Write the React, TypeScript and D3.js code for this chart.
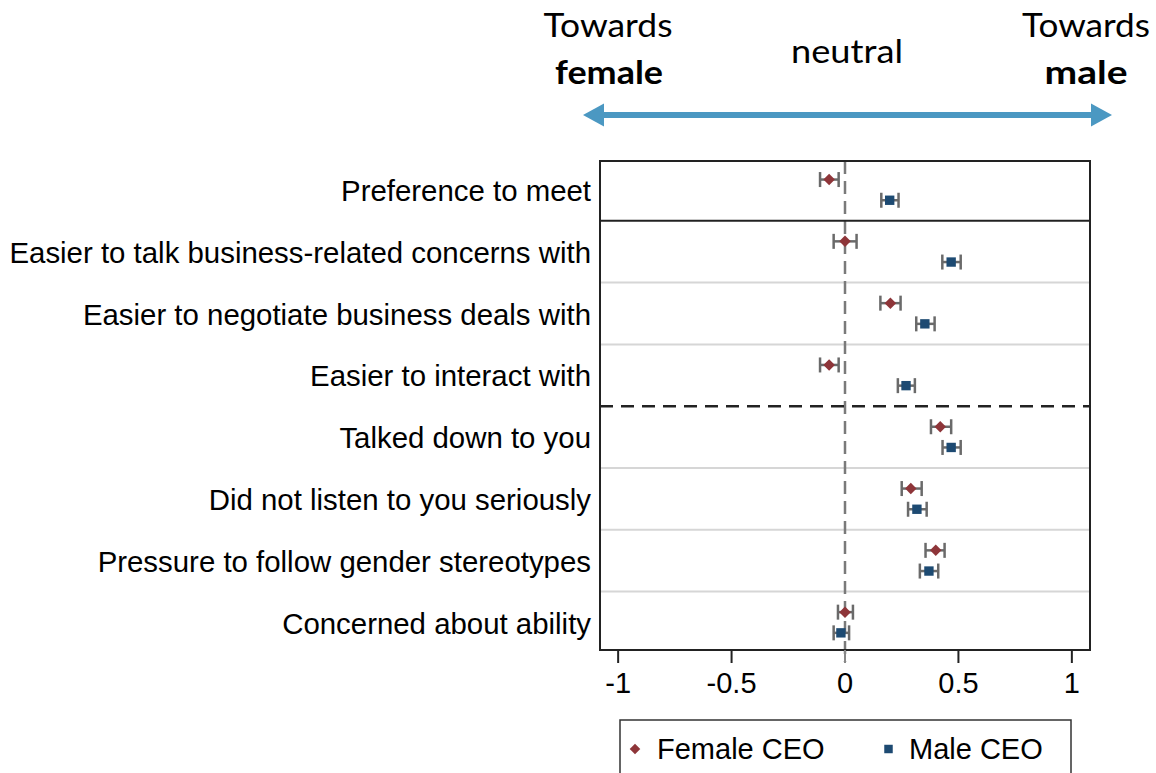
import React from "react";
import * as d3 from "d3";

const categories = [
  "Preference to meet",
  "Easier to talk business-related concerns with",
  "Easier to negotiate business deals with",
  "Easier to interact with",
  "Talked down to you",
  "Did not listen to you seriously",
  "Pressure to follow gender stereotypes",
  "Concerned about ability",
];
const femaleEst = [-0.07, 0.0, 0.2, -0.07, 0.42, 0.29, 0.4, 0.0];
const femaleLo = [-0.11, -0.05, 0.156, -0.11, 0.379, 0.25, 0.355, -0.031];
const femaleHi = [-0.028, 0.051, 0.245, -0.028, 0.468, 0.338, 0.439, 0.035];
const maleEst = [0.197, 0.468, 0.352, 0.269, 0.468, 0.317, 0.37, -0.018];
const maleLo = [0.16, 0.429, 0.314, 0.233, 0.43, 0.278, 0.33, -0.05];
const maleHi = [0.236, 0.51, 0.395, 0.308, 0.51, 0.36, 0.411, 0.018];
const xTicks = [-1, -0.5, 0, 0.5, 1];
const tickLabels = ["-1", "-0.5", "0", "0.5", "1"];
const seriesNames = ["Female CEO", "Male CEO"];

const FEMALE = "#8E3539";
const MALE = "#1D4A72";
const ERR = "#6a6a6a";
const FRAME = "#222";
const ARROW = "#4B98C2";
const LABEL_FONT = "'Liberation Sans', Arial, Helvetica, sans-serif";
const HEAD_FONT = "Lato, 'Open Sans', sans-serif";

// square-ish diamond (as in Stata), size = area
const wideDiamond = {
  draw(ctx: any, size: number) {
    const r = Math.sqrt(size / 2);
    ctx.moveTo(0, -r);
    ctx.lineTo(r, 0);
    ctx.lineTo(0, r);
    ctx.lineTo(-r, 0);
    ctx.closePath();
  },
};

export default function App() {
  const W = 1156, H = 773;
  const plotL = 600, plotR = 1090, plotT = 161, plotB = 650;
  const x = d3.scaleLinear().domain([-1.08, 1.08]).range([plotL, plotR]);
  const y = d3.scaleBand<string>().domain(categories).range([159, 653.4]).padding(0);
  const bw = y.bandwidth();
  const sub = d3.scalePoint<string>().domain(seriesNames).range([-10.35, 10.35]);
  const center = (c: string) => (y(c) as number) + bw / 2;

  const series = [
    { name: seriesNames[0], est: femaleEst, lo: femaleLo, hi: femaleHi, color: FEMALE, shape: "diamond" },
    { name: seriesNames[1], est: maleEst, lo: maleLo, hi: maleHi, color: MALE, shape: "square" },
  ];

  const diamond = d3.symbol(wideDiamond as any, 66)();
  const square = d3.symbol(d3.symbolSquare, 88)();
  const capH = 7.5;

  const arrowY = 115;
  const aL = 583, aR = 1112, headL = 21, headH = 11.5;

  return (
    <svg width={W} height={H} style={{ position: "absolute", left: 0, top: 0, background: "#fff" }}>
      <rect x={0} y={0} width={W} height={H} fill="#fff" />
      {/* Header */}
      <g fontFamily={HEAD_FONT} fill="#000">
        <text x={608} y={37} fontSize={33} textAnchor="middle" textLength={129} lengthAdjust="spacingAndGlyphs">Towards</text>
        <text x={609} y={84} fontSize={33} fontWeight={700} textAnchor="middle" textLength={108} lengthAdjust="spacingAndGlyphs">female</text>
        <text x={847} y={63} fontSize={33} textAnchor="middle" textLength={112} lengthAdjust="spacingAndGlyphs">neutral</text>
        <text x={1086} y={37} fontSize={33} textAnchor="middle" textLength={128} lengthAdjust="spacingAndGlyphs">Towards</text>
        <text x={1086} y={84} fontSize={33} fontWeight={700} textAnchor="middle" textLength={83} lengthAdjust="spacingAndGlyphs">male</text>
      </g>
      <g fill={ARROW}>
        <rect x={aL + headL - 1} y={arrowY - 3} width={aR - aL - 2 * headL + 2} height={6} />
        <path d={`M${aL},${arrowY} L${aL + headL},${arrowY - headH} L${aL + headL},${arrowY + headH} Z`} />
        <path d={`M${aR},${arrowY} L${aR - headL},${arrowY - headH} L${aR - headL},${arrowY + headH} Z`} />
      </g>

      {/* light separators */}
      {categories.slice(1).map((c, i) => {
        const yy = y(c) as number;
        if (i === 0 || i === 3) return null;
        return <line key={c} x1={plotL} x2={plotR} y1={yy} y2={yy} stroke="#d6d6d6" strokeWidth={2} />;
      })}

      {/* zero line */}
      <line x1={x(0)} x2={x(0)} y1={plotT} y2={plotB + 12} stroke="#7a7a7a" strokeWidth={2.5} strokeDasharray="13,7" />

      {/* error bars & markers */}
      {series.map((s) => (
        <g key={s.name}>
          {categories.map((c, i) => {
            const yy = center(c) + (sub(s.name) as number);
            const xl = x(s.lo[i]), xh = x(s.hi[i]);
            return (
              <g key={c} stroke={ERR} strokeWidth={2.5}>
                <line x1={xl} x2={xh} y1={yy} y2={yy} />
                <line x1={xl} x2={xl} y1={yy - capH} y2={yy + capH} />
                <line x1={xh} x2={xh} y1={yy - capH} y2={yy + capH} />
              </g>
            );
          })}
          {categories.map((c, i) => {
            const yy = center(c) + (sub(s.name) as number);
            return (
              <path key={c} d={s.shape === "diamond" ? (diamond as string) : (square as string)}
                transform={`translate(${x(s.est[i])},${yy})`} fill={s.color} />
            );
          })}
        </g>
      ))}

      {/* frame */}
      <rect x={plotL} y={plotT} width={plotR - plotL} height={plotB - plotT} fill="none" stroke={FRAME} strokeWidth={2} />
      <line x1={plotL} x2={plotR} y1={y(categories[1]) as number} y2={y(categories[1]) as number} stroke={FRAME} strokeWidth={2} />
      <line x1={plotL} x2={plotR} y1={y(categories[4]) as number} y2={y(categories[4]) as number} stroke={FRAME} strokeWidth={2.5} strokeDasharray="13,8" />

      {/* category labels */}
      <g fontFamily={LABEL_FONT} fontSize={29.4} fill="#000" textAnchor="end">
        {categories.map((c) => (
          <text key={c} x={591} y={center(c) + 11}>{c}</text>
        ))}
      </g>

      {/* x axis */}
      <g>
        {xTicks.map((t, i) => (
          <g key={t}>
            <line x1={x(t)} x2={x(t)} y1={plotB} y2={plotB + 13} stroke={t === 0 ? "#888" : FRAME} strokeWidth={2} />
            <text x={x(t)} y={693} fontFamily={LABEL_FONT} fontSize={29} textAnchor="middle" fill="#000">{tickLabels[i]}</text>
          </g>
        ))}
      </g>

      {/* legend */}
      <rect x={620} y={720} width={451} height={70} fill="#fff" stroke="#333" strokeWidth={1.5} />
      <path d={d3.symbol(wideDiamond as any, 56)() as string} transform="translate(635,749)" fill={FEMALE} />
      <text x={657} y={759} fontFamily={LABEL_FONT} fontSize={29} fill="#000">{seriesNames[0]}</text>
      <path d={d3.symbol(d3.symbolSquare, 72)() as string} transform="translate(888.5,749)" fill={MALE} />
      <text x={909} y={759} fontFamily={LABEL_FONT} fontSize={29} fill="#000">{seriesNames[1]}</text>
    </svg>
  );
}
